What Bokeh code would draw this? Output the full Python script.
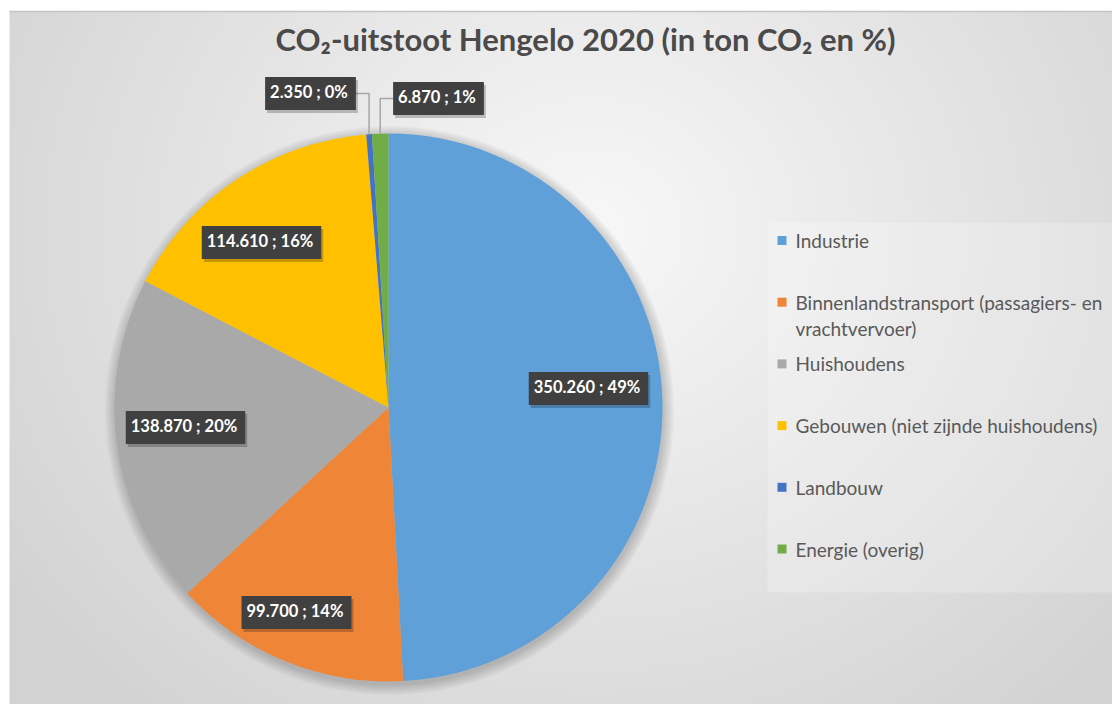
import numpy as np
from bokeh.plotting import figure
from bokeh.models import Range1d
from bokeh.core.properties import value
from bokeh.embed import file_html
from bokeh.resources import INLINE

# ---- data ----
categories = ["Industrie",
              "Binnenlandstransport (passagiers- en\nvrachtvervoer)",
              "Huishoudens",
              "Gebouwen (niet zijnde huishoudens)",
              "Landbouw",
              "Energie (overig)"]
values = [350260, 99700, 138870, 114610, 2350, 6870]
pct_labels = ["49%", "14%", "20%", "16%", "0%", "1%"]
colors = ["#60A0D9", "#EE8537", "#A9A9A9", "#FFC000", "#4472C4", "#70AD47"]
title_text = "CO\u2082-uitstoot Hengelo 2020 (in ton CO\u2082 en %)"

W, H = 1112, 704
FONT = "Lato"

def Y(sy):
    return H - sy

p = figure(width=W, height=H, x_range=Range1d(0, W), y_range=Range1d(0, H),
           output_backend="svg", toolbar_location=None, min_border=0)
p.axis.visible = False
p.grid.visible = False
p.outline_line_color = None
p.background_fill_color = "white"
p.border_fill_color = "white"

# ---- background gradient (chart area) ----
x0, y0 = 9, 11
bw, bh = W - x0, H - y0
xs = np.arange(bw)[None, :] + x0
ys = np.arange(bh)[:, None] + y0
d = np.sqrt(((xs - 590) / 1.0) ** 2 + ((ys - 230) / 0.9) ** 2)
t = np.clip(d / 720.0, 0, 1)
g = (248 - 38 * t).astype(np.uint32)
img = (255 << 24) | (g << 16) | (g << 8) | g
img = img[::-1, :]  # row 0 at bottom of data space
p.image_rgba(image=[img.astype(np.uint32)], x=x0, y=0, dw=bw, dh=bh)
p.line([x0, W], [Y(y0), Y(y0)], line_color="#C4C4C4", line_width=1.5)

# ---- pie ----
cx, cy, r = 388, Y(407), 274
total = float(sum(values))
frac = np.array(values) / total
cum = np.concatenate([[0], np.cumsum(frac)])
start = np.pi / 2 - cum[:-1] * 2 * np.pi
end = np.pi / 2 - cum[1:] * 2 * np.pi
mid = (start + end) / 2

# soft shadow
for k in range(7):
    p.circle(x=cx + 1, y=cy - 3, radius=r + 1 + k * 1.6, fill_color="black",
             fill_alpha=0.028, line_color=None)

p.wedge(x=cx, y=cy, radius=r, start_angle=list(start), end_angle=list(end),
        direction="clock", fill_color=colors, line_color=None)

# ---- data labels ----
label_texts = [f"{v:,}".replace(",", ".") + " ; " + pc for v, pc in zip(values, pct_labels)]
label_pos = [(588, 388), (296, 612), (185, 427), (261, 242), (310, 93), (438, 98)]

# leader lines for the small slices
for i in (4, 5):
    ex = cx + r * np.cos(mid[i])
    ey = cy + r * np.sin(mid[i])
    lx, ly = label_pos[i]
    p.line([lx, ex, ex], [Y(ly), Y(ly), ey], line_color="#A6A6A6", line_width=1.5)

lx = [q[0] for q in label_pos]
ly = [Y(q[1]) for q in label_pos]
LBL_SIZE = "16.5px"
# label shadows
p.text(x=[v + 2 for v in lx], y=[v - 3 for v in ly], text=label_texts,
       text_font=value(FONT), text_font_style="bold", text_font_size=LBL_SIZE,
       text_align="center", text_baseline="middle", text_alpha=0,
       background_fill_color="black", background_fill_alpha=0.22,
       padding=[5, 8, 5, 8])
p.text(x=lx, y=ly, text=label_texts,
       text_font=value(FONT), text_font_style="bold", text_font_size=LBL_SIZE,
       text_align="center", text_baseline="middle", text_color="white",
       background_fill_color="#404040", padding=[5, 8, 5, 8])

# ---- title ----
p.text(x=[585], y=[Y(38)], text=[title_text], text_font=value(FONT),
       text_font_size="31px", text_font_style="bold", text_color="#4A4A4A",
       text_align="center", text_baseline="middle")

# ---- legend ----
p.rect(x=[(767 + W) / 2], y=[Y((222 + 592) / 2)], width=W - 767, height=592 - 222,
       fill_color="white", fill_alpha=0.22, line_color=None)
leg_y0, leg_step, line_gap = 240, 61.7, 26
sq_x, sq_y, tx, ty, tt = [], [], [], [], []
for i, cat in enumerate(categories):
    yy = leg_y0 + i * leg_step
    sq_x.append(781.5)
    sq_y.append(Y(yy))
    for k, part in enumerate(cat.split("\n")):
        tx.append(795)
        ty.append(Y(yy + k * line_gap))
        tt.append(part)
p.rect(x=sq_x, y=sq_y, width=9, height=9, fill_color=colors, line_color=None)
p.text(x=tx, y=ty, text=tt, text_font=value(FONT), text_font_size="19px",
       text_color="#595959", text_align="left", text_baseline="middle")

open("out.html", "w").write(file_html(p, INLINE))
